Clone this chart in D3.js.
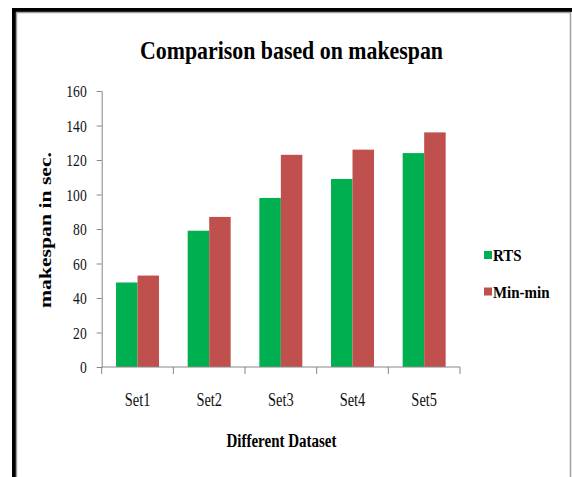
<!DOCTYPE html>
<html><head><meta charset="utf-8">
<script src="https://cdn.jsdelivr.net/npm/d3@7"></script>
<style>body{margin:0;background:#fff}svg{display:block}</style>
</head><body>
<svg id="c" width="572" height="477"></svg>
<script>
const categories = ["Set1","Set2","Set3","Set4","Set5"];
const seriesNames = ["RTS","Min-min"];
const rtsValues = [49,79,98,109,124];
const minminValues = [53,87,123,126,136];
const yTicks = [0,20,40,60,80,100,120,140,160];
const colors = ["#00B050","#C0504D"];

const svg = d3.select("#c");
const font = "'Liberation Serif','Times New Roman',serif";

function squish(sel, f){
  sel.each(function(){
    const w = this.getComputedTextLength();
    d3.select(this).attr("textLength", w*f).attr("lengthAdjust","spacingAndGlyphs");
  });
}

// frame
svg.append("rect").attr("x",12).attr("y",8).attr("width",560).attr("height",4).attr("fill","#000");
svg.append("rect").attr("x",12).attr("y",8).attr("width",4).attr("height",469).attr("fill","#000");
svg.append("path").attr("d","M16.5,477 V12.5 H570.5 V477").attr("fill","none").attr("stroke","#a0a0a0").attr("stroke-width",1.5);

const x0 = d3.scaleBand().domain(categories).range([101.7,460]).paddingInner(0).paddingOuter(0);
const x1 = d3.scaleBand().domain(seriesNames).range([0,x0.bandwidth()]).paddingInner(0).paddingOuter(0.667);
const y = d3.scaleLinear().domain([0,160]).range([367,91]);

const data = categories.map((c,i)=>({cat:c, vals:[rtsValues[i],minminValues[i]]}));

const g = svg.append("g");
g.selectAll("g.grp").data(data).join("g").attr("class","grp")
  .attr("transform",d=>`translate(${x0(d.cat)},0)`)
  .selectAll("rect").data(d=>d.vals.map((v,j)=>({name:seriesNames[j],v,j}))).join("rect")
  .attr("x",d=>x1(d.name)).attr("width",x1.bandwidth())
  .attr("y",d=>y(d.v)).attr("height",d=>y(0)-y(d.v))
  .attr("fill",d=>colors[d.j]);

// y axis
const ya = svg.append("g").attr("transform","translate(101.7,0)")
  .call(d3.axisLeft(y).tickValues(yTicks).tickSize(5).tickPadding(10).tickSizeOuter(0));
ya.select(".domain").attr("stroke","#868686");
ya.selectAll(".tick line").attr("stroke","#868686");
ya.selectAll(".tick text").attr("font-family",font).attr("font-size","17.5px").attr("fill","#111").attr("dy","0.34em");
squish(ya.selectAll(".tick text"), 0.78);

// x axis
const xa = svg.append("g").attr("transform","translate(0,367)")
  .call(d3.axisBottom(x0).tickSize(0).tickPadding(26));
xa.select(".domain").attr("stroke","#868686").attr("d","M101.7,0H460");
xa.selectAll(".tick text").attr("font-family",font).attr("font-size","18px").attr("fill","#111");
squish(xa.selectAll(".tick text"), 0.8);
const bounds = categories.map(c=>x0(c)).concat([x0(categories[4])+x0.bandwidth()]);
xa.selectAll("line.bt").data(bounds).join("line").attr("class","bt")
  .attr("x1",d=>d).attr("x2",d=>d).attr("y1",0).attr("y2",7).attr("stroke","#868686");

// title
svg.append("text").attr("x",291.5).attr("y",59).attr("text-anchor","middle")
  .attr("font-family",font).attr("font-weight","bold").attr("font-size","26px")
  .attr("textLength",303).attr("lengthAdjust","spacingAndGlyphs")
  .text("Comparison based on makespan");

// axis titles
svg.append("text").attr("transform","translate(50.5,230) rotate(-90)").attr("text-anchor","middle")
  .attr("font-family",font).attr("font-weight","bold").attr("font-size","16px")
  .attr("textLength",156).attr("lengthAdjust","spacingAndGlyphs")
  .text("makespan in sec.");
svg.append("text").attr("x",281.5).attr("y",447).attr("text-anchor","middle")
  .attr("font-family",font).attr("font-weight","bold").attr("font-size","18px")
  .attr("textLength",110).attr("lengthAdjust","spacingAndGlyphs")
  .text("Different Dataset");

// legend
const leg = svg.append("g").selectAll("g").data(seriesNames).join("g")
  .attr("transform",(d,i)=>`translate(484,${251+i*36.5})`);
leg.append("rect").attr("width",8).attr("height",8).attr("fill",(d,i)=>colors[i]);
leg.append("text").attr("x",9).attr("y",10).attr("font-family",font).attr("font-weight","bold")
  .attr("font-size","17px").text(d=>d);
squish(leg.selectAll("text"), 0.88);
</script>
</body></html>
